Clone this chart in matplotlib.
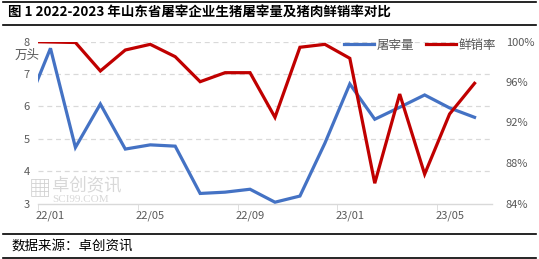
import matplotlib
matplotlib.use("Agg")
import matplotlib.pyplot as plt
from matplotlib.lines import Line2D

plt.rcParams['font.family'] = ['Noto Sans CJK SC', 'DejaVu Sans']

months = ['21/12', '22/01', '22/02', '22/03', '22/04', '22/05', '22/06', '22/07', '22/08',
          '22/09', '22/10', '22/11', '22/12', '23/01', '23/02', '23/03', '23/04', '23/05', '23/06']
slaughter = [5.9, 7.79, 4.73, 6.07, 4.68, 4.81, 4.77, 3.31, 3.35, 3.44, 3.04, 3.23, 4.86,
             6.69, 5.6, 5.97, 6.35, 5.95, 5.66]
fresh_rate = [100.0, 99.95, 99.9, 97.09, 99.16, 99.72, 98.5, 96.03, 96.92, 96.92, 92.51, 99.43,
              99.72, 98.34, 86.0, 94.81, 86.9, 92.84, 95.87]
label_months = ['22/01', '22/05', '22/09', '23/01', '23/05']
left_ticks = [3, 4, 5, 6, 7, 8]
right_ticks = [84, 88, 92, 96, 100]

W, H = 539, 259
fig = plt.figure(figsize=(W / 100, H / 100), dpi=100)

x = [i - 1 for i in range(len(months))]  # 22/01 at 0

ax = fig.add_axes([38 / W, 1 - 203.5 / H, (492 - 38) / W, (203.5 - 41.5) / H])
ax2 = ax.twinx()

blue = '#4472C4'
red = '#C00000'
grey = '#595959'

ax.plot(x, slaughter, color=blue, lw=2.3, solid_joinstyle='miter', zorder=3, clip_on=True)
ax2.plot(x, fresh_rate, color=red, lw=2.3, solid_joinstyle='miter', zorder=3, clip_on=True)

ax.set_xlim(-0.5, 17.7)
ax.set_ylim(3, 8)
ax2.set_ylim(84, 100)

ax.set_yticks(left_ticks)
ax.set_yticklabels([str(v) for v in left_ticks])
ax2.set_yticks(right_ticks)
ax2.set_yticklabels([f'{v}%' for v in right_ticks])

label_pos = [months.index(m) - 1 for m in label_months]
ax.set_xticks(label_pos)
ax.set_xticklabels(label_months)
ax.set_xticks([p - 0.5 for p in label_pos], minor=True)
ax.tick_params(axis='x', which='major', length=0, pad=5, labelsize=8, labelcolor=grey)
ax.tick_params(axis='x', which='minor', length=4, color='#d9d9d9', direction='out')
ax.tick_params(axis='y', length=0, pad=6, labelsize=8, labelcolor=grey)
ax2.tick_params(axis='y', length=0, pad=10, labelsize=8, labelcolor=grey)

for a in (ax, ax2):
    for s in a.spines.values():
        s.set_visible(False)
ax.spines['bottom'].set_visible(True)
ax.spines['bottom'].set_color('#d9d9d9')
ax.spines['bottom'].set_linewidth(1)

for v in left_ticks[1:]:
    ax.axhline(v, color='#d9d9d9', lw=0.9, ls=(0, (4, 3)), zorder=1)

ax2.set_zorder(ax.get_zorder() + 1)

# y unit label
fig.text(15 / W, 1 - 55 / H, '万头', fontsize=9, color=grey, va='center', ha='left')

# legend
handles = [Line2D([], [], color=blue, lw=2.3), Line2D([], [], color=red, lw=2.3)]
leg = fig.legend(handles, ['屠宰量', '鲜销率'], loc='center', bbox_to_anchor=(420 / W, 1 - 45 / H),
                 ncol=2, frameon=False, fontsize=9, handlelength=2.4, handletextpad=0.2,
                 columnspacing=1.0, borderaxespad=0)
for t in leg.get_texts():
    t.set_color(grey)

# watermark
fig.text(29 / W, 1 - 189 / H, '▦', fontsize=16, color='#d0d0d0', va='center', ha='left')
fig.text(52 / W, 1 - 185 / H, '卓创资讯', fontsize=12.5, color='#d8d8d8', va='center', ha='left')
fig.text(52 / W, 1 - 200 / H, 'SCI99.COM', fontsize=8, color='#d8d8d8', va='center', ha='left',
         family=['Liberation Serif'])

# title and borders
fig.text(8 / W, 1 - 13 / H, '图 1 2022-2023 年山东省屠宰企业生猪屠宰量及猪肉鲜销率对比',
         fontsize=9.7, fontweight='bold', color='black', va='center', ha='left')
for yy, lw in [(1.5, 1.2), (25, 1.2), (234, 1.2), (258, 1.2)]:
    fig.add_artist(Line2D([3 / W, 536 / W], [1 - yy / H, 1 - yy / H], color='black', lw=lw))
fig.text(12 / W, 1 - 246 / H, '数据来源：卓创资讯', fontsize=9.7, color='black', va='center', ha='left')

fig.savefig('out.png', dpi=100)
